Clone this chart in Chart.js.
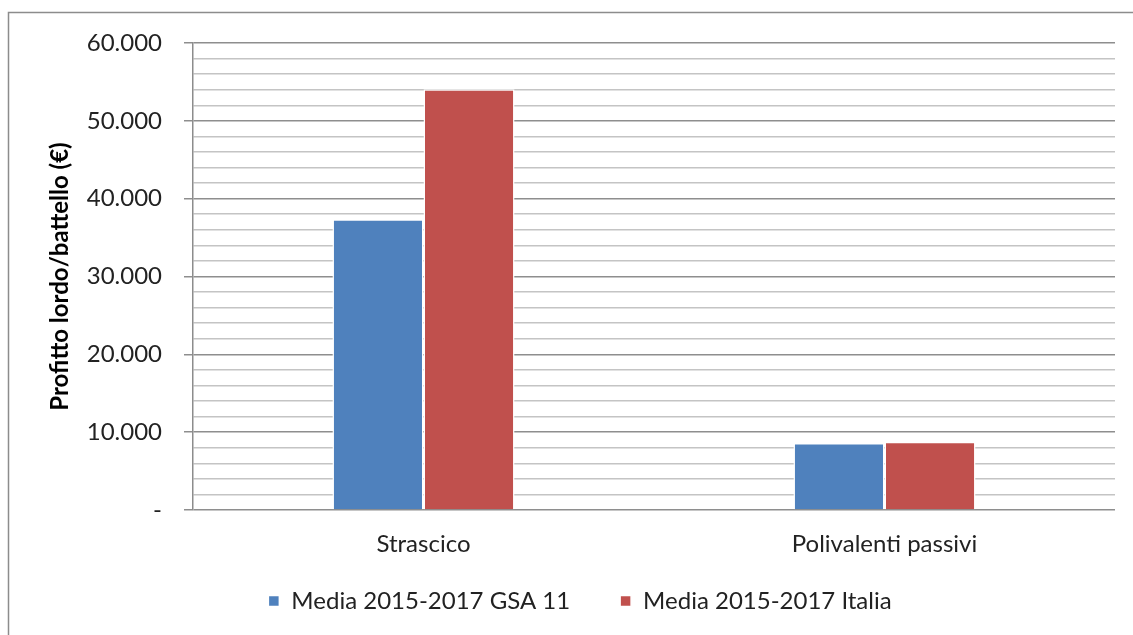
<!DOCTYPE html>
<html>
<head>
<meta charset="utf-8">
<script src="https://cdn.jsdelivr.net/npm/chart.js@4.4.1/dist/chart.umd.min.js"></script>
<style>
	html, body { margin: 0; padding: 0; background: #fff; }
	#wrap { width: 1133px; height: 635px; position: relative; }
</style>
</head>
<body>
<div id="wrap"><canvas id="chart-area"></canvas></div>
<script>
// Profitto lordo per battello, medie 2015-2017
var categories = ['Strascico', 'Polivalenti passivi'];
var seriesNames = ['Media 2015-2017 GSA 11', 'Media 2015-2017 Italia'];
var gsa11Values = [37350, 8620];
var italiaValues = [54050, 8780];
var yMin = 0;
var yMax = 60000;
var yStep = 2000;
var yLabelStep = 10000;

var fontFamily = "Lato, 'Open Sans', sans-serif";

function formatThousands(value) {
	if (value === 0) {
		return '-';
	}
	return String(value).replace(/\B(?=(\d{3})+(?!\d))/g, '.');
}

function isMajor(value) {
	return value % yLabelStep === 0;
}

// frame around the whole chart
var framePlugin = {
	id: 'frame',
	beforeDraw: function (chart) {
		var ctx = chart.ctx;
		ctx.save();
		ctx.strokeStyle = '#8c8c8c';
		ctx.lineWidth = 1.5;
		ctx.strokeRect(8.5, 12.5, 1200, 700);
		ctx.restore();
	}
};

// the legend padding is wide for the gap between items, pull the row back up
var legendOffset = -20;
var legendShiftPlugin = {
	id: 'legendShift',
	afterLayout: function (chart) {
		if (chart.legend) {
			chart.legend.top += legendOffset;
			chart.legend.bottom += legendOffset;
		}
	}
};

var config = {
	type: 'bar',
	data: {
		labels: categories,
		datasets: [{
			label: seriesNames[0],
			data: gsa11Values,
			backgroundColor: '#4f81bd',
			borderColor: '#ffffff',
			borderWidth: 1.5
		}, {
			label: seriesNames[1],
			data: italiaValues,
			backgroundColor: '#c0504d',
			borderColor: '#ffffff',
			borderWidth: 1.5
		}]
	},
	options: {
		responsive: true,
		maintainAspectRatio: false,
		animation: false,
		layout: {
			padding: { left: 45, right: 18, top: 43, bottom: 0 }
		},
		datasets: {
			bar: {
				categoryPercentage: 0.395,
				barPercentage: 1
			}
		},
		plugins: {
			tooltip: { enabled: false },
			legend: {
				position: 'bottom',
				maxHeight: 76,
				labels: {
					boxWidth: 11,
					boxHeight: 11,
					padding: 50,
					color: '#222',
					font: { family: fontFamily, size: 24 }
				}
			}
		},
		scales: {
			x: {
				grid: { display: false, drawTicks: false },
				border: { display: false },
				ticks: {
					padding: 20,
					color: '#222',
					font: { family: fontFamily, size: 24 }
				},
				afterFit: function (scale) {
					scale.height = 49;
				}
			},
			y: {
				min: yMin,
				max: yMax,
				border: { display: true, color: '#8c8c8c', width: 1.5 },
				grid: {
					drawTicks: true,
					tickLength: 9,
					lineWidth: 1.5,
					color: function (ctx) {
						return isMajor(ctx.tick.value) ? '#8e8e8e' : '#c4c4c4';
					},
					tickColor: function (ctx) {
						return isMajor(ctx.tick.value) ? '#8e8e8e' : 'rgba(0,0,0,0)';
					}
				},
				ticks: {
					stepSize: yStep,
					autoSkip: false,
					padding: 22,
					color: '#222',
					font: { family: fontFamily, size: 24 },
					callback: function (value) {
						return isMajor(value) ? formatThousands(value) : '';
					}
				},
				title: {
					display: true,
					text: 'Profitto lordo/battello (€)',
					color: '#000',
					padding: { top: 1, bottom: 0 },
					font: { family: fontFamily, size: 24, weight: 'bold' }
				},
				afterFit: function (scale) {
					scale.width = 148;
				}
			}
		}
	},
	plugins: [framePlugin, legendShiftPlugin]
};

var ctx = document.getElementById('chart-area').getContext('2d');
var myBarChart = new Chart(ctx, config);
</script>
</body>
</html>
